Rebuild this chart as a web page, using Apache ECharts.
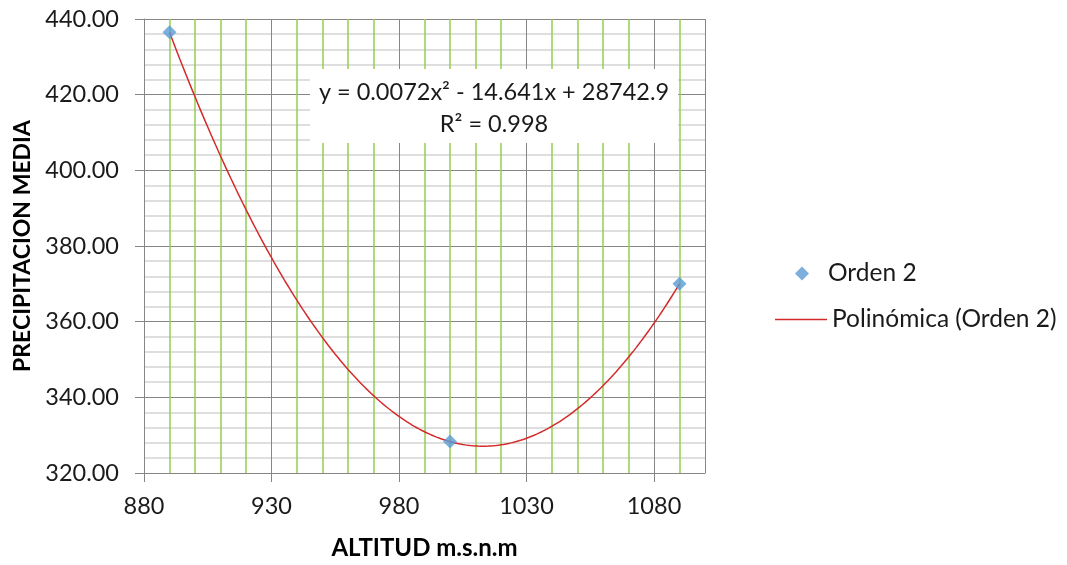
<!DOCTYPE html>
<html>
<head>
<meta charset="utf-8">
<script src="https://cdn.jsdelivr.net/npm/echarts@6/dist/echarts.min.js"></script>
<style>html,body{margin:0;padding:0;background:#fff;}#c{width:1067px;height:565px;}</style>
</head>
<body>
<div id="c"></div>
<script>
// Data
const altitudes = [890, 1000, 1090];
const precipitation = [436.5, 328.3, 370.0];
const seriesNames = ['Orden 2', 'Polinómica (Orden 2)'];
const equationLines = ['y = 0.0072x\u00B2 - 14.641x + 28742.9', 'R\u00B2 = 0.998'];

// Polynomial (order 2) least-squares trendline from the data
function polyFit2(xs, ys) {
  const n = xs.length; let S = [0,0,0,0,0], T = [0,0,0];
  for (let i = 0; i < n; i++) {
    const x = xs[i], y = ys[i];
    for (let k = 0; k < 5; k++) S[k] += Math.pow(x, k);
    for (let k = 0; k < 3; k++) T[k] += y * Math.pow(x, k);
  }
  const A = [[S[0],S[1],S[2],T[0]],[S[1],S[2],S[3],T[1]],[S[2],S[3],S[4],T[2]]];
  for (let i = 0; i < 3; i++) {
    for (let j = i + 1; j < 3; j++) {
      const f = A[j][i] / A[i][i];
      for (let k = i; k < 4; k++) A[j][k] -= f * A[i][k];
    }
  }
  const c = [0,0,0];
  for (let i = 2; i >= 0; i--) {
    let s = A[i][3];
    for (let k = i + 1; k < 3; k++) s -= A[i][k] * c[k];
    c[i] = s / A[i][i];
  }
  return c;
}
const coef = polyFit2(altitudes, precipitation);
const trend = [];
for (let x = altitudes[0]; x <= altitudes[altitudes.length - 1]; x += 1) {
  trend.push([x, coef[0] + coef[1] * x + coef[2] * x * x]);
}

const FONT = 'Lato';
const TXT = '#1a1a1a';
const chart = echarts.init(document.getElementById('c'), null, {renderer: 'canvas'});
chart.setOption({
  animation: false,
  backgroundColor: '#ffffff',
  textStyle: {fontFamily: FONT},
  grid: {left: 144, right: 362, top: 19, bottom: 91, containLabel: false},
  xAxis: {
    type: 'value', min: 880, max: 1100, interval: 50,
    name: 'ALTITUD m.s.n.m', nameLocation: 'middle', nameGap: 63,
    nameTextStyle: {fontFamily: FONT, fontWeight: 'bold', fontSize: 24, color: '#000'},
    axisLine: {show: true, lineStyle: {color: '#868686', width: 1}},
    axisTick: {show: true, length: 9, lineStyle: {color: '#868686'}},
    axisLabel: {fontSize: 23.5, color: TXT, margin: 21, showMaxLabel: false, fontFamily: FONT,
      formatter: v => String(v)},
    splitLine: {show: true, lineStyle: {color: '#868686', width: 1}},
    minorTick: {show: false, splitNumber: 5},
    minorSplitLine: {show: true, lineStyle: {color: '#92D050', width: 1.5}}
  },
  yAxis: {
    type: 'value', min: 320, max: 440, interval: 20,
    name: 'PRECIPITACION MEDIA', nameLocation: 'middle', nameGap: 107,
    nameTextStyle: {fontFamily: FONT, fontWeight: 'bold', fontSize: 23, color: '#000'},
    axisLine: {show: true, lineStyle: {color: '#868686', width: 1}},
    axisTick: {show: true, length: 9, lineStyle: {color: '#868686'}},
    axisLabel: {fontSize: 23.5, color: TXT, margin: 25, fontFamily: FONT,
      formatter: v => v.toFixed(2)},
    splitLine: {show: true, lineStyle: {color: '#868686', width: 1}},
    minorTick: {show: false, splitNumber: 5},
    minorSplitLine: {show: true, lineStyle: {color: '#d4d4d4', width: 1.5}}
  },
  legend: [
    {
      orient: 'vertical', left: 790, top: 256, itemWidth: 14, itemHeight: 14,
      textStyle: {fontSize: 24.5, color: TXT, fontFamily: FONT, padding: [0, 0, 0, 14]},
      data: [{name: seriesNames[0], icon: 'diamond'}]
    },
    {
      orient: 'vertical', left: 770, top: 302, itemWidth: 52, itemHeight: 1.5,
      textStyle: {fontSize: 24.5, color: TXT, fontFamily: FONT},
      data: [{name: seriesNames[1], icon: 'rect'}]
    }
  ],
  series: [
    {
      name: seriesNames[1], type: 'line', data: trend, showSymbol: false, symbol: 'none',
      smooth: false, lineStyle: {color: '#d42a2a', width: 1.5}, itemStyle: {color: '#d42a2a'}, z: 3
    },
    {
      name: seriesNames[0], type: 'scatter', data: altitudes.map((x, i) => [x, precipitation[i]]),
      symbol: 'diamond', symbolSize: 14, itemStyle: {color: '#5B9BD5'}, z: 4
    }
  ],
  graphic: [
    {type: 'rect', x: 310, y: 69, shape: {width: 368, height: 74}, style: {fill: '#ffffff'}, z: 2},
    {type: 'text', x: 494, y: 80, z: 5,
      style: {text: equationLines[0], fontSize: 23.5, fontFamily: FONT, fill: TXT, align: 'center', verticalAlign: 'top'}},
    {type: 'text', x: 494, y: 112, z: 5,
      style: {text: equationLines[1], fontSize: 23.5, fontFamily: FONT, fill: TXT, align: 'center', verticalAlign: 'top'}}
  ]
});
</script>
</body>
</html>
